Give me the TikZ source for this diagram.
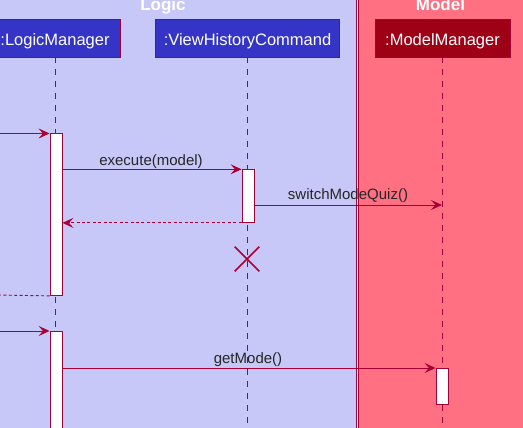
\documentclass[tikz,border=0pt]{standalone}
\usepackage{fontspec}
\setmainfont{Liberation Sans}
\usetikzlibrary{arrows.meta,shapes.misc}
\definecolor{lc}{HTML}{A80036}
\definecolor{logicbg}{HTML}{C8C8F8}
\definecolor{modelbg}{HTML}{FE7082}
\definecolor{pblue}{HTML}{3434C6}
\definecolor{pred}{HTML}{9E0016}
\begin{document}
\begin{tikzpicture}[x=1pt,y=-1pt,
  grp/.style={draw=lc, line width=0.9pt},
  grptitle/.style={anchor=base, text=white, font=\fontsize{17}{19}\selectfont\bfseries, inner sep=0pt},
  part/.style={draw=lc, line width=0.9pt, text=white, font=\fontsize{16.5}{18}\selectfont,
    inner sep=0pt, minimum height=38pt, text height=15pt, text depth=0pt},
  life/.style={draw=lc, line width=0.9pt, dash pattern=on 6pt off 6pt},
  bar/.style={draw=lc, fill=white, line width=0.9pt, minimum width=12pt, inner sep=0pt, anchor=north},
  msg/.style={draw=lc, line width=0.9pt, -{Stealth[length=11pt,width=10pt,inset=4.5pt]}},
  ret/.style={draw=lc, line width=0.9pt, dash pattern=on 3pt off 2.4pt, -{Stealth[length=11pt,width=10pt,inset=4.5pt]}},
  retnh/.style={draw=lc, line width=0.9pt, dash pattern=on 3pt off 2.4pt},
  lbl/.style={anchor=base, font=\fontsize{15}{17}\selectfont, inner sep=0pt, text=black!85}
]
\useasboundingbox (0,0) rectangle (523,428);
% group boxes
\path[grp, fill=logicbg] (-30,-20) rectangle (356,450);
\path[grp, fill=modelbg] (358,-20) rectangle (540,450);
\node[grptitle] (tlogic) at (163,11) {Logic};
\node[grptitle] (tmodel) at (440.5,11) {Model};
% participants
\node[part, fill=pblue, minimum width=130pt] (lm) at (55,38) {:LogicManager};
\node[part, fill=pblue, minimum width=184pt] (vh) at (247.5,38) {:ViewHistoryCommand};
\node[part, fill=pred, minimum width=135pt] (mm) at (442.5,38) {:ModelManager};
% lifelines
\coordinate (bot) at (0,430);
\draw[life] (55,57) -- (55,430);
\draw[life] (247,57) -- (247,430);
\draw[life] (442,57) -- (442,430);
% activation bars
\node[bar, minimum height=161.5pt] (b1) at (56,133.5) {};
\node[bar, minimum height=52.7pt] (b2) at (248,169.3) {};
\node[bar, minimum height=110pt] (b3) at (56,331) {};
\node[bar, minimum height=35.5pt] (b4) at (442,368) {};
% destroy
\node[cross out, draw=lc, line width=1.6pt, minimum size=23pt, inner sep=0pt] (xx) at (247,259) {};
% messages
\coordinate (in1) at (-2,133.5);
\coordinate (out1) at (-2,295);
\coordinate (in2) at (-2,331);
\coordinate (m1) at (442,205);
\draw[msg] (in1) -- (b1.north west);
\draw[msg] (b1.east |- b2.north) -- (b2.north west);
\node[lbl] (lexec) at (151,165) {execute(model)};
\draw[msg] (b2.east |- m1) -- (m1);
\node[lbl] (lsw) at (348,200) {switchModeQuiz()};
\draw[ret] (b2.south west) -- (b1.east |- b2.south west);
\draw[retnh] (b1.south west) -- (out1);
\draw[msg] (in2) -- (b3.north west);
\draw[msg] (b3.east |- b4.north) -- (b4.north west);
\node[lbl] (lget) at (248,363) {getMode()};
\end{tikzpicture}
\end{document}
